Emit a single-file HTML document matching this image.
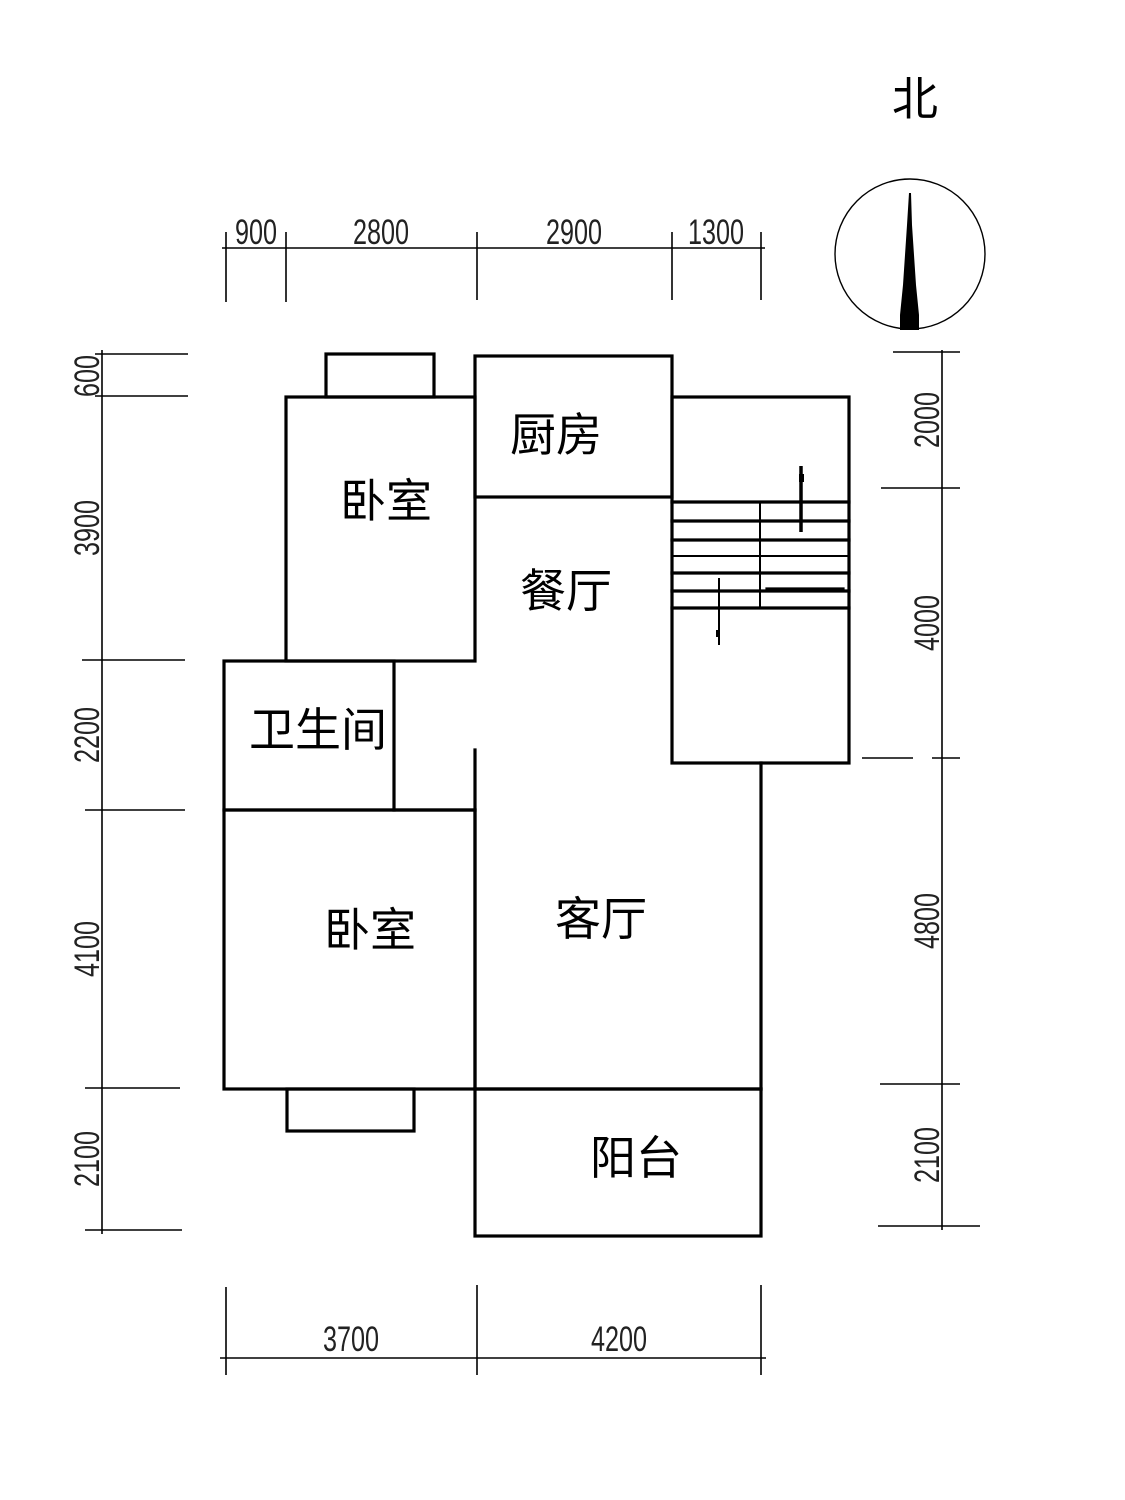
<!DOCTYPE html>
<html><head><meta charset="utf-8"><style>
html,body{margin:0;padding:0;background:#fff;}
svg{display:block;}
.dim{font-family:"Liberation Sans",sans-serif;font-size:35px;fill:#222;}
.room{font-family:"Liberation Sans","Noto Sans CJK SC",sans-serif;font-size:46px;fill:#000;}
</style></head><body>
<svg width="1125" height="1500" viewBox="0 0 1125 1500" xmlns="http://www.w3.org/2000/svg">
<g stroke="#000" fill="none" stroke-width="1.6">
<line x1="222" y1="248" x2="765" y2="248"/>
<line x1="226" y1="232" x2="226" y2="302"/>
<line x1="286" y1="232" x2="286" y2="302"/>
<line x1="477" y1="232" x2="477" y2="300"/>
<line x1="672" y1="232" x2="672" y2="300"/>
<line x1="761" y1="232" x2="761" y2="300"/>
<line x1="102" y1="350" x2="102" y2="1234"/>
<line x1="95" y1="354" x2="188" y2="354"/>
<line x1="95" y1="396" x2="188" y2="396"/>
<line x1="82" y1="660" x2="185" y2="660"/>
<line x1="85" y1="810" x2="185" y2="810"/>
<line x1="85" y1="1088" x2="180" y2="1088"/>
<line x1="85" y1="1230" x2="182" y2="1230"/>
<line x1="942" y1="350" x2="942" y2="1230"/>
<line x1="893" y1="352" x2="960" y2="352"/>
<line x1="881" y1="488" x2="960" y2="488"/>
<line x1="862" y1="758" x2="913" y2="758"/>
<line x1="932" y1="758" x2="960" y2="758"/>
<line x1="880" y1="1084" x2="960" y2="1084"/>
<line x1="878" y1="1226" x2="980" y2="1226"/>
<line x1="220" y1="1358" x2="766" y2="1358"/>
<line x1="226" y1="1287" x2="226" y2="1375"/>
<line x1="477" y1="1285" x2="477" y2="1375"/>
<line x1="761" y1="1285" x2="761" y2="1375"/>
<circle cx="910" cy="254" r="75" stroke-width="1.4"/>
</g>
<polygon points="909,193 911,193 912,225 914,255 916,285 919,315 919,330 900,330 900,315 903,285 905,255 907,225" fill="#000"/>
<g stroke="#000" fill="none" stroke-width="3.2" stroke-linecap="square">
<rect x="326" y="354" width="108" height="43"/>
<rect x="286" y="397" width="189" height="264"/>
<rect x="475" y="356" width="197" height="141"/>
<rect x="672" y="397" width="177" height="366"/>
<rect x="224" y="661" width="170" height="149"/>
<rect x="224" y="810" width="251" height="279"/>
<line x1="394" y1="810" x2="475" y2="810"/>
<line x1="475" y1="750" x2="475" y2="1089"/>
<line x1="761" y1="763" x2="761" y2="1089"/>
<line x1="475" y1="1089" x2="761" y2="1089"/>
<rect x="287" y="1089" width="127" height="42"/>
<rect x="475" y="1089" width="286" height="147"/>
<line x1="672" y1="502" x2="849" y2="502"/>
<line x1="672" y1="521" x2="849" y2="521"/>
<line x1="672" y1="540" x2="849" y2="540"/>
<line x1="672" y1="573" x2="849" y2="573"/>
<line x1="672" y1="591" x2="849" y2="591"/>
<line x1="672" y1="608" x2="849" y2="608"/>
<line x1="767" y1="589" x2="843" y2="589"/>
</g>
<g stroke="#000" stroke-width="2">
<line x1="672" y1="556" x2="849" y2="556"/>
<line x1="760" y1="502" x2="760" y2="607"/>
<line x1="719" y1="578" x2="719" y2="645"/>
</g>
<line x1="801" y1="466" x2="801" y2="532" stroke="#000" stroke-width="3.5"/>
<rect x="799" y="474" width="5" height="8" fill="#000"/>
<rect x="716" y="630" width="4" height="7" fill="#000"/>
<g class="dim">
<text transform="translate(256,244) scale(0.72,1)" text-anchor="middle">900</text>
<text transform="translate(381,244) scale(0.72,1)" text-anchor="middle">2800</text>
<text transform="translate(574,244) scale(0.72,1)" text-anchor="middle">2900</text>
<text transform="translate(716,244) scale(0.72,1)" text-anchor="middle">1300</text>
<text transform="translate(351,1351) scale(0.72,1)" text-anchor="middle">3700</text>
<text transform="translate(619,1351) scale(0.72,1)" text-anchor="middle">4200</text>
<text transform="translate(99,376) rotate(-90) scale(0.72,1)" text-anchor="middle">600</text>
<text transform="translate(99,528) rotate(-90) scale(0.72,1)" text-anchor="middle">3900</text>
<text transform="translate(99,735) rotate(-90) scale(0.72,1)" text-anchor="middle">2200</text>
<text transform="translate(99,949) rotate(-90) scale(0.72,1)" text-anchor="middle">4100</text>
<text transform="translate(99,1159) rotate(-90) scale(0.72,1)" text-anchor="middle">2100</text>
<text transform="translate(939,420) rotate(-90) scale(0.72,1)" text-anchor="middle">2000</text>
<text transform="translate(939,623) rotate(-90) scale(0.72,1)" text-anchor="middle">4000</text>
<text transform="translate(939,921) rotate(-90) scale(0.72,1)" text-anchor="middle">4800</text>
<text transform="translate(939,1155) rotate(-90) scale(0.72,1)" text-anchor="middle">2100</text>
</g>
<g class="room" text-anchor="middle">
<text x="915" y="115">北</text>
<text x="386" y="517">卧室</text>
<text x="556" y="451">厨房</text>
<text x="566" y="607">餐厅</text>
<text x="318" y="746">卫生间</text>
<text x="370" y="946">卧室</text>
<text x="601" y="935">客厅</text>
<text x="636" y="1174">阳台</text>
</g>
</svg>
</body></html>
